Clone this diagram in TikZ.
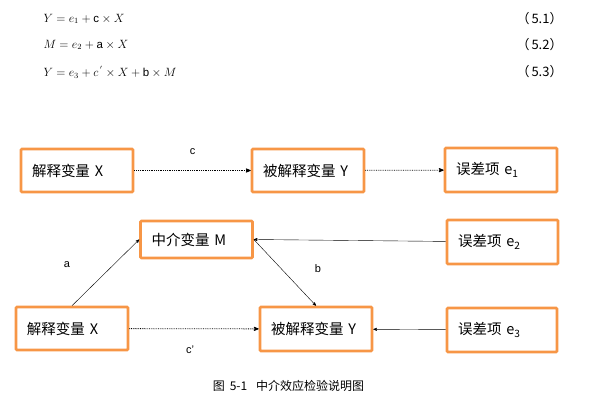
\documentclass[tikz,border=0pt]{standalone}
\usepackage{fontspec}
\setmainfont{Liberation Sans}
\newfontfamily\cjk{Noto Sans CJK SC}
\usetikzlibrary{arrows}
\usepackage{xcolor}
\definecolor{boxorange}{HTML}{F79646}

\begin{document}
\begin{tikzpicture}[x=1pt,y=-1pt,>=stealth',
  box/.style={draw=boxorange, line width=2.6pt, rounded corners=1pt, inner xsep=11pt,
    text width=90pt, align=left, minimum height=43pt, font=\cjk\fontsize{14.5}{16}\selectfont},
  lbl/.style={font=\fontsize{11}{13}\selectfont},
  eqn/.style={anchor=west, font=\fontsize{11.5}{13}\selectfont},
  eqnum/.style={anchor=west, font=\cjk\fontsize{13}{15}\selectfont},
  dotarrow/.style={->, densely dotted, line width=.8pt}]
\useasboundingbox (0,0) rectangle (590,401);
% equations
\node[eqn] (eq1) at (40,19) {$Y = e_1 + \mathrm{c}\times X$};
\node[eqn] (eq2) at (40,45) {$M = e_2 + \mathrm{a}\times X$};
\node[eqn] (eq3) at (40,72) {$Y = e_3 + c^{\,'}\times X + \mathrm{b}\times M$};
\node[eqnum] (n1) at (513,19) {（\hspace{2pt}5.1）};
\node[eqnum] (n2) at (513,45) {（\hspace{2pt}5.2）};
\node[eqnum] (n3) at (513,72) {（\hspace{2pt}5.3）};
% total effect
\node[box] (x1) at (77,170.5) {解释变量 X};
\node[box] (y1) at (308,170.5) {被解释变量 Y};
\node[box, minimum height=44pt] (e1) at (501,170) {误差项 e\textsubscript{1}};
\draw[dotarrow] (x1) -- (y1) node[lbl, midway, above, yshift=12pt] (c) {c};
\draw[dotarrow] (y1) -- (e1);
% mediation
\node[box, minimum height=37pt] (m) at (196.5,239.5) {中介变量 M};
\node[box, text width=89pt, minimum height=44pt] (e2) at (502.5,242) {误差项 e\textsubscript{2}};
\node[box] (x2) at (72,328.5) {解释变量 X};
\node[box, minimum height=44pt] (y2) at (316,329) {被解释变量 Y};
\node[box, text width=88pt, minimum height=44pt] (e3) at (502,330) {误差项 e\textsubscript{3}};
\draw[->] (x2.north) -- (m.west);
\draw[->] (m.east) -- (y2.north);
\draw[->] (e2) -- (m.east);
\draw[->] (e3) -- (y2);
\draw[dotarrow] (x2) -- (y2);
\node[lbl] (a) at (67,265) {a};
\node[lbl] (b) at (318,269) {b};
\node[lbl] (cp) at (190,350) {c'};
% caption
\node[font=\cjk\fontsize{12}{14}\selectfont] (cap) at (288.5,386) {图\hspace{5pt}5-1\hspace{9pt}中介效应检验说明图};
\end{tikzpicture}
\end{document}
